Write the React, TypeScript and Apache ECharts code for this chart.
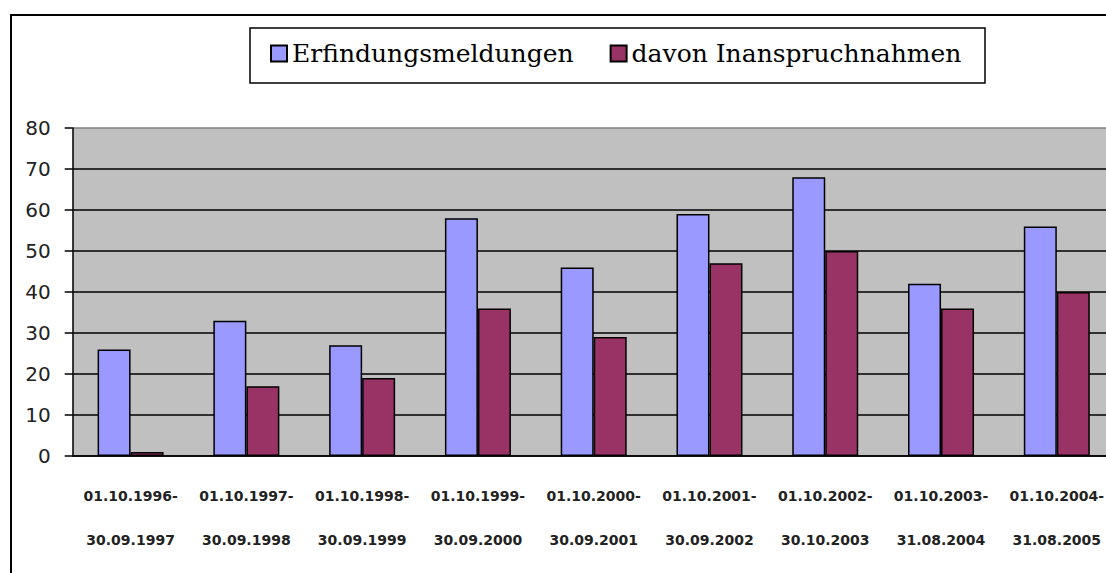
import React, { useEffect, useRef } from "react";
import * as echarts from "echarts";

const categories = [
  "01.10.1996-\n30.09.1997",
  "01.10.1997-\n30.09.1998",
  "01.10.1998-\n30.09.1999",
  "01.10.1999-\n30.09.2000",
  "01.10.2000-\n30.09.2001",
  "01.10.2001-\n30.09.2002",
  "01.10.2002-\n30.10.2003",
  "01.10.2003-\n31.08.2004",
  "01.10.2004-\n31.08.2005",
];
const erfindungsmeldungen = [26, 33, 27, 58, 46, 59, 68, 42, 56];
const inanspruchnahmen = [1, 17, 19, 36, 29, 47, 50, 36, 40];
const seriesNames = ["Erfindungsmeldungen", "davon Inanspruchnahmen"];

export default function App() {
  const ref = useRef<HTMLDivElement>(null);
  useEffect(() => {
    document.body.style.margin = "0";
    const chart = echarts.init(ref.current!, null, { renderer: "svg" });
    chart.setOption({
      animation: false,
      backgroundColor: "#ffffff",
      graphic: [
        {
          type: "rect",
          shape: { x: 11, y: 15, width: 1300, height: 700 },
          style: { fill: "none", stroke: "#000", lineWidth: 2 },
          z: 100,
        },
        {
          type: "rect",
          shape: { x: 250, y: 28, width: 735, height: 55 },
          style: { fill: "#fff", stroke: "#000", lineWidth: 1.5 },
          z: 1,
        },
      ],
      legend: {
        left: 270,
        top: 41,
        padding: 0,
        itemWidth: 16,
        itemHeight: 16,
        itemGap: 36,
        icon: "rect",
        z: 10,
        textStyle: {
          fontFamily: "DejaVu Serif",
          fontSize: 25,
          color: "#000",
        },
        data: seriesNames,
      },
      grid: {
        left: 72.7,
        top: 128,
        bottom: 117,
        width: 1042,
        show: true,
        backgroundColor: "#C0C0C0",
        borderWidth: 0,
      },
      xAxis: {
        type: "category",
        data: categories,
        axisLine: { lineStyle: { color: "#000", width: 1.5 } },
        axisTick: { length: 9, lineStyle: { color: "#000", width: 1.5 } },
        axisLabel: {
          interval: 0,
          margin: 18,
          lineHeight: 44,
          fontFamily: "DejaVu Sans",
          fontWeight: "bold",
          fontSize: 14,
          color: "#222",
        },
      },
      yAxis: {
        type: "value",
        min: 0,
        max: 80,
        interval: 10,
        axisLine: { show: true, lineStyle: { color: "#000", width: 1.5 } },
        axisTick: { show: true, length: 8, lineStyle: { color: "#000", width: 1.5 } },
        axisLabel: {
          margin: 22,
          fontFamily: "DejaVu Sans",
          fontSize: 20,
          color: "#222",
        },
        splitLine: {
          show: true,
          lineStyle: {
            color: ["#000", "#000", "#000", "#000", "#000", "#000", "#000", "#000", "#808080"],
            width: 1.5,
          },
        },
      },
      series: [
        {
          name: seriesNames[0],
          type: "bar",
          data: erfindungsmeldungen,
          barWidth: 33,
          barGap: "0%",
          itemStyle: { color: "#9999FF", borderColor: "#000", borderWidth: 1.5 },
        },
        {
          name: seriesNames[1],
          type: "bar",
          data: inanspruchnahmen,
          barWidth: 33,
          barGap: "0%",
          itemStyle: { color: "#993366", borderColor: "#000", borderWidth: 1.5 },
        },
      ],
    });
    return () => chart.dispose();
  }, []);
  return (
    <div style={{ position: "fixed", left: 0, top: 0, width: 1106, height: 573, overflow: "hidden" }}>
      <div ref={ref} style={{ width: 1130, height: 573 }} />
    </div>
  );
}
